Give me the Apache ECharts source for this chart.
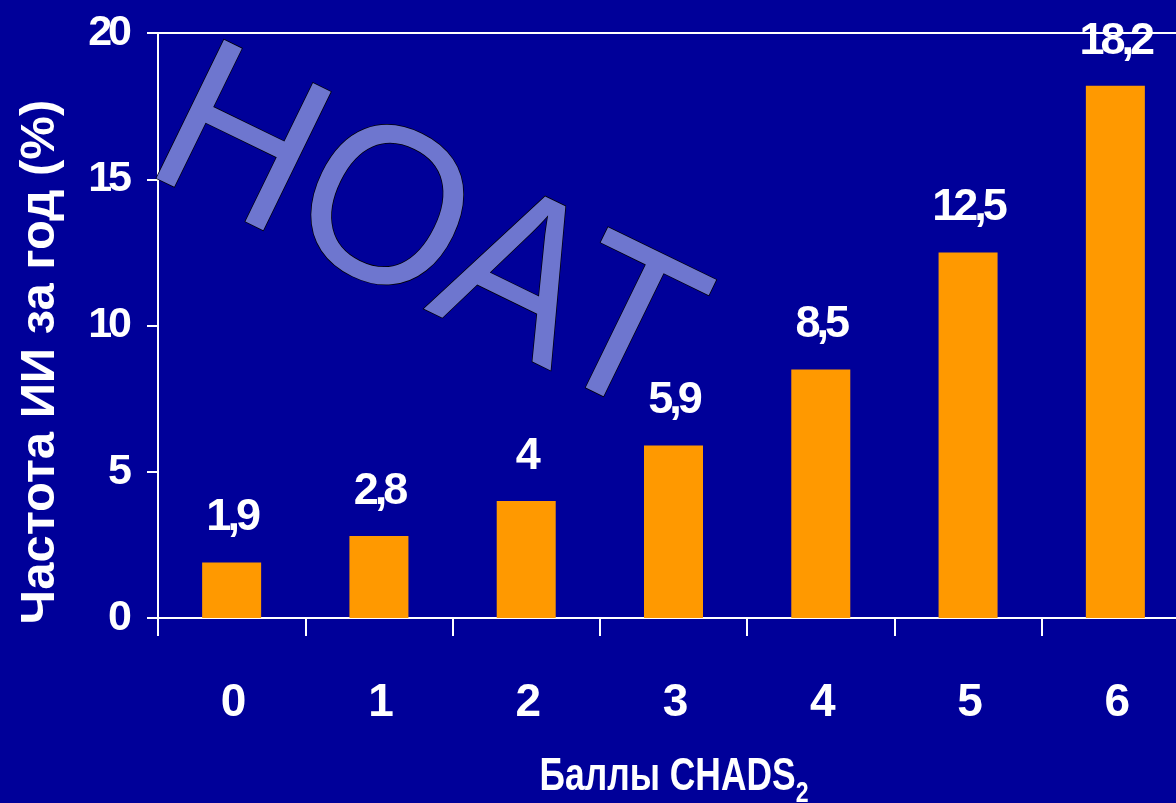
<!DOCTYPE html>
<html><head><meta charset="utf-8">
<script src="https://cdn.jsdelivr.net/npm/echarts@6/dist/echarts.min.js"></script>
<style>html,body{margin:0;padding:0;background:#000099}
#wrap{position:relative;width:1176px;height:803px}
#c,#o{position:absolute;left:0;top:0;width:1176px;height:803px}
#o{pointer-events:none}</style>
</head><body><div id="wrap"><div id="c"></div><div id="o"></div></div>
<script>
const categories = ['0', '1', '2', '3', '4', '5', '6'];
const values = [1.9, 2.8, 4, 5.9, 8.5, 12.5, 18.2];
const valueLabels = ['1,9', '2,8', '4', '5,9', '8,5', '12,5', '18,2'];
const yTicks = [0, 5, 10, 15, 20];
const yTitle = 'Частота ИИ за год (%)';
const xTitleMain = 'Баллы CHADS';
const xTitleSub = '2';
const watermark = 'НОАТ';

const FONT = '"Liberation Sans", Arial, sans-serif';

const option = {
  backgroundColor: '#000099',
  animation: false,
  grid: {left: 158, top: 33, width: 1031, height: 585, containLabel: false, outerBoundsMode: 'none'},
  xAxis: {
    type: 'category',
    data: categories,
    axisLine: {show: true, lineStyle: {color: '#ffffff', width: 2}},
    axisTick: {show: true, length: 18, lineStyle: {color: '#ffffff', width: 2}},
    axisLabel: {color: '#ffffff', fontSize: 46, fontWeight: 'bold', fontFamily: FONT, margin: 62}
  },
  yAxis: {
    type: 'value',
    min: yTicks[0],
    max: yTicks[yTicks.length - 1],
    interval: yTicks[1] - yTicks[0],
    axisLine: {show: true, lineStyle: {color: '#ffffff', width: 2}},
    axisTick: {show: true, length: 11, lineStyle: {color: '#ffffff', width: 2}},
    splitLine: {show: false},
    axisLabel: {color: '#ffffff', fontSize: 43, fontWeight: 'bold', fontFamily: FONT, margin: 30}
  },
  series: [{
    type: 'bar',
    data: values,
    barWidth: 59,
    itemStyle: {color: '#FF9900'},
    label: {
      show: true,
      position: 'top',
      distance: 22,
      color: '#ffffff',
      fontSize: 45,
      fontWeight: 'bold',
      fontFamily: FONT,
      formatter: p => valueLabels[p.dataIndex]
    },
    markLine: {
      silent: true,
      symbol: 'none',
      label: {show: false},
      lineStyle: {color: '#ffffff', width: 2, type: 'solid'},
      data: [{yAxis: yTicks[yTicks.length - 1]}]
    }
  }]
};

const chart = echarts.init(document.getElementById('c'), null, {renderer: 'canvas'});
chart.setOption(option);
// slightly condensed letter spacing for the chart's tick and value labels
document.querySelectorAll('#c canvas').forEach(cv => {
  const ctx = cv.getContext('2d');
  if ('letterSpacing' in ctx) ctx.letterSpacing = '-4px';
});
chart.getZr().painter.refresh(true);

// overlay: watermark and axis titles
const over = echarts.init(document.getElementById('o'), null, {renderer: 'canvas'});
over.setOption({
  backgroundColor: 'transparent',
  animation: false,
  graphic: [
    {
      type: 'text', x: 424, y: 240, rotation: -26 * Math.PI / 180, scaleX: 0.95,
      style: {
        text: watermark, font: '224px ' + FONT,
        fill: '#6e76cf',
        stroke: '#000000', lineWidth: 1.5,
        align: 'center', verticalAlign: 'middle'
      }
    },
    {
      type: 'text', x: 40, y: 362, rotation: Math.PI / 2,
      style: {
        text: yTitle, font: 'bold 49px ' + FONT, fill: '#ffffff',
        align: 'center', verticalAlign: 'middle',
        shadowColor: '#000000', shadowOffsetX: 2, shadowOffsetY: 2, shadowBlur: 0
      }
    },
    {
      type: 'text', x: 674, y: 754, scaleX: 0.77,
      style: {
        text: '{a|' + xTitleMain + '}{s|' + xTitleSub + '}',
        align: 'center', verticalAlign: 'top',
        rich: {
          a: {fontSize: 46, fontWeight: 'bold', fontFamily: FONT, fill: '#ffffff', verticalAlign: 'top'},
          s: {fontSize: 30, fontWeight: 'bold', fontFamily: FONT, fill: '#ffffff', verticalAlign: 'top', padding: [25, 0, 0, 0]}
        }
      }
    }
  ]
});
</script>
</body></html>
